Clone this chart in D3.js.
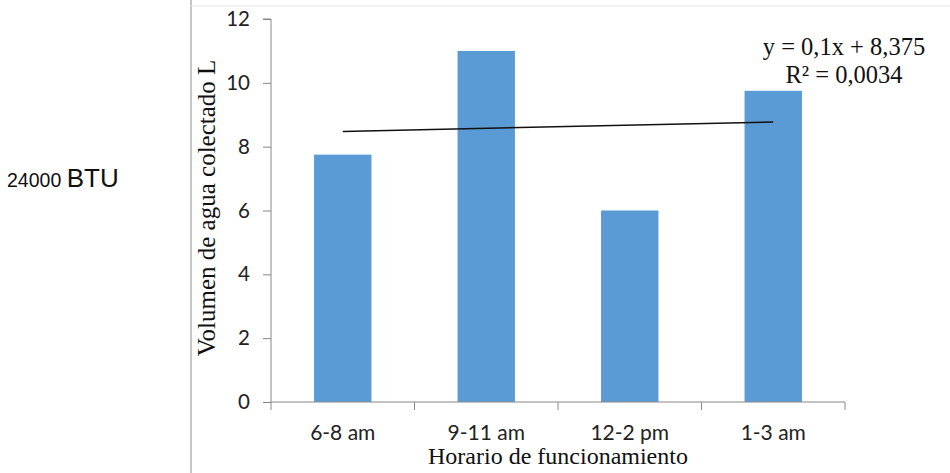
<!DOCTYPE html>
<html><head><meta charset="utf-8">
<script src="https://cdn.jsdelivr.net/npm/d3@7/dist/d3.min.js"></script>
<style>body{margin:0;background:#fff}svg{display:block}</style>
</head><body>
<svg id="c" width="950" height="473"></svg>
<script>
const categories = ["6-8 am", "9-11 am", "12-2 pm", "1-3 am"];
const values = [7.75, 11, 6, 9.75];
const yTicks = [0, 2, 4, 6, 8, 10, 12];
const trendSlope = 0.1, trendIntercept = 8.375;
const eqLines = ["y = 0,1x + 8,375", "R² = 0,0034"];

const svg = d3.select("#c");
const pLeft = 271, pRight = 845, pTop = 19, pBottom = 402;

// table borders
svg.append("line").attr("x1",191).attr("x2",191).attr("y1",0).attr("y2",473).attr("stroke","#a0a0a0").attr("stroke-width",1.2);
svg.append("line").attr("x1",191).attr("x2",950).attr("y1",6).attr("y2",6).attr("stroke","#e4e4e4").attr("stroke-width",1);

// side label
const side = svg.append("text").attr("x",7).attr("y",187).attr("font-family","Liberation Sans, Arial, sans-serif").attr("fill","#111");
side.append("tspan").attr("font-size",19.5).text("24000 ");
side.append("tspan").attr("font-size",26).text("BTU");

const x = d3.scaleBand().domain(categories).range([pLeft,pRight]).paddingInner(0.6).paddingOuter(0.3);
const y = d3.scaleLinear().domain([0,12]).range([pBottom,pTop]);

// bars
svg.append("g").selectAll("rect").data(values).join("rect")
  .attr("x",(d,i)=>x(categories[i])).attr("width",x.bandwidth())
  .attr("y",d=>y(d)).attr("height",d=>y(0)-y(d)).attr("fill","#5b9bd5");

// y axis
const ya = svg.append("g").attr("transform",`translate(${pLeft},0)`)
  .call(d3.axisLeft(y).tickValues(yTicks).tickSize(8).tickPadding(13).tickFormat(d3.format("d")));
ya.select(".domain").attr("stroke","#888").attr("d",`M-8,${pTop}H0V${pBottom}`);
ya.selectAll(".tick line").attr("stroke","#888");
ya.selectAll("text").attr("font-family","Lato, Carlito, sans-serif").attr("font-size",20.5).attr("fill","#222");

// x axis
const xa = svg.append("g").attr("transform",`translate(0,${pBottom})`)
  .call(d3.axisBottom(x).tickSize(0).tickPadding(23));
xa.select(".domain").attr("stroke","#888").attr("d",`M${pLeft},8V0H${pRight}V8`);
xa.selectAll("text").attr("font-family","Lato, Carlito, sans-serif").attr("font-size",21).attr("fill","#222");
const step = x.step();
xa.selectAll("line.sep").data(d3.range(1,categories.length)).join("line").attr("class","sep")
  .attr("x1",i=>pLeft+i*step).attr("x2",i=>pLeft+i*step).attr("y1",0).attr("y2",8).attr("stroke","#888");

// trend line
const xc = i => x(categories[i]) + x.bandwidth()/2;
svg.append("line")
  .attr("x1",xc(0)).attr("y1",y(trendSlope*1+trendIntercept))
  .attr("x2",xc(categories.length-1)).attr("y2",y(trendSlope*categories.length+trendIntercept))
  .attr("stroke","#111").attr("stroke-width",1.5);

// equation
svg.append("g").selectAll("text").data(eqLines).join("text")
  .attr("x",844).attr("y",(d,i)=>55+i*28).attr("text-anchor","middle")
  .attr("font-family","Liberation Serif, Times New Roman, serif").attr("font-size",24.5).attr("fill","#111").text(d=>d);

// axis titles
svg.append("text").attr("transform","translate(215,208) rotate(-90)").attr("text-anchor","middle")
  .attr("font-family","Liberation Serif, Times New Roman, serif").attr("font-size",25).attr("fill","#111")
  .text("Volumen de agua colectado L");
svg.append("text").attr("x",558).attr("y",464).attr("text-anchor","middle")
  .attr("font-family","Liberation Serif, Times New Roman, serif").attr("font-size",24).attr("fill","#111")
  .text("Horario de funcionamiento");
</script>
</body></html>
